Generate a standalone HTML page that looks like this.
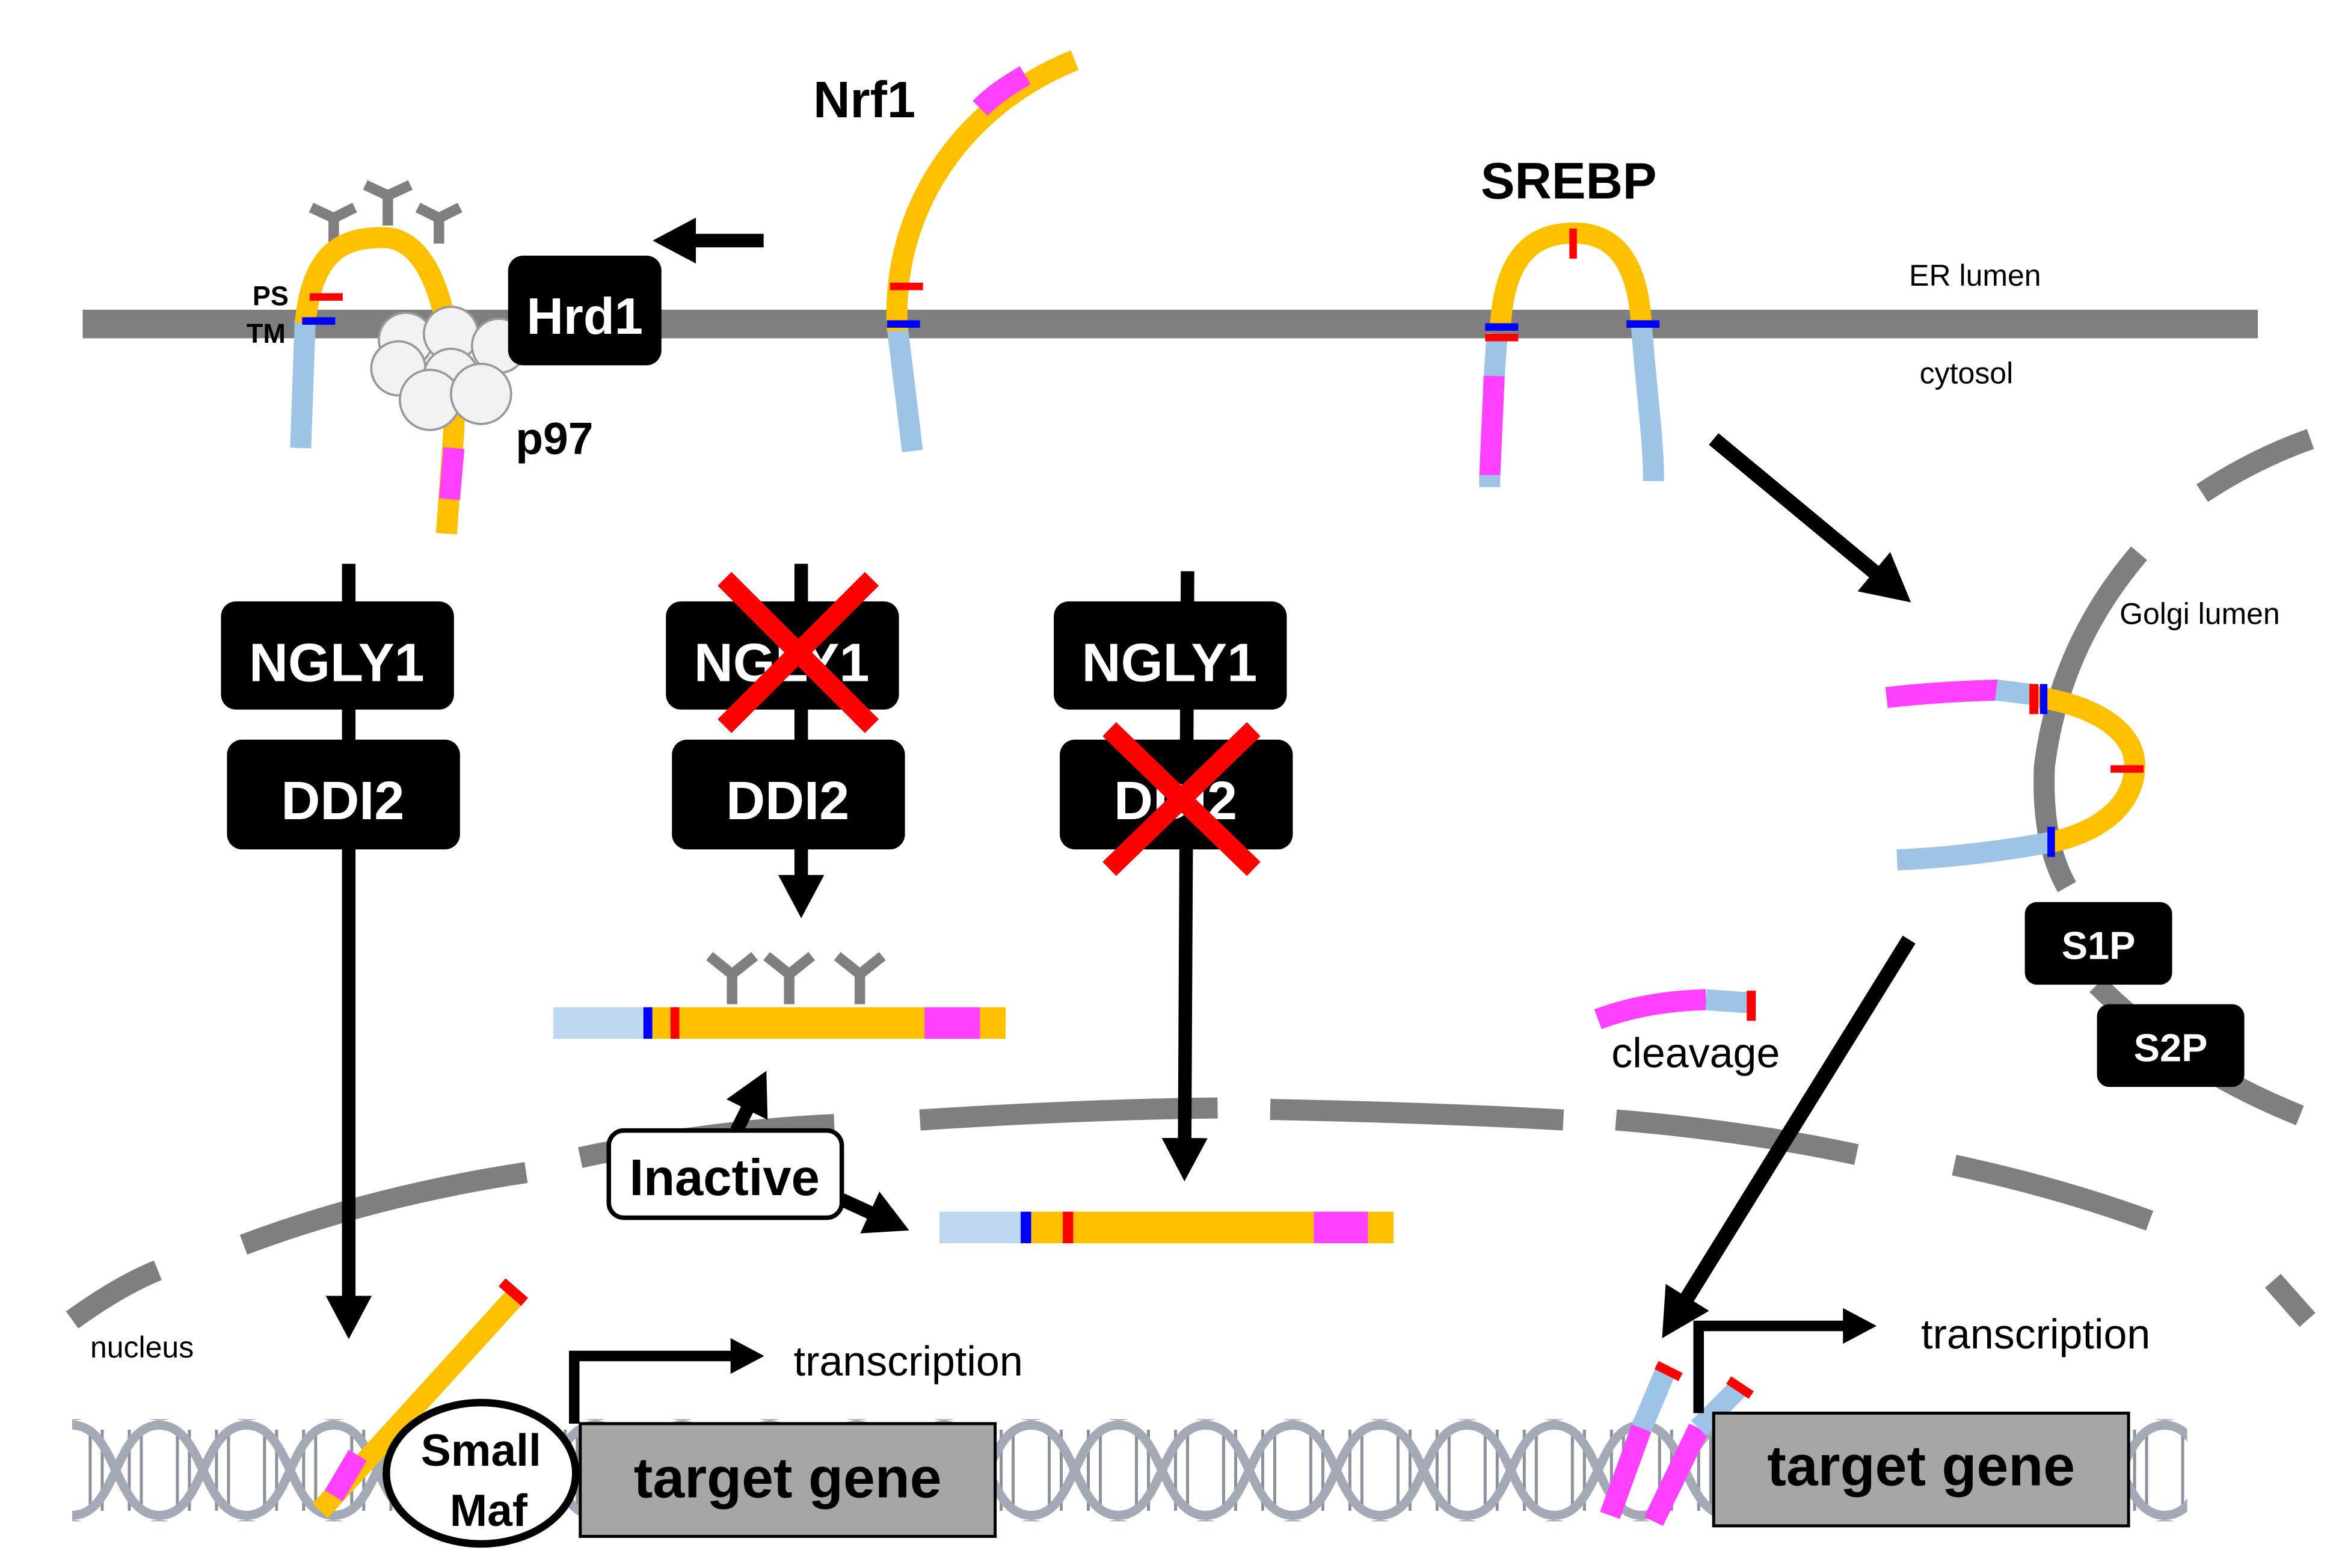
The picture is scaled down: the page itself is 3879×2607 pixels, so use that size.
<!DOCTYPE html>
<html><head><meta charset="utf-8"><style>html,body{margin:0;padding:0;background:#fff}svg{display:block}</style></head><body>
<svg width="3879" height="2607" viewBox="0 0 1552 1043" xmlns="http://www.w3.org/2000/svg" font-family="Liberation Sans, Arial, sans-serif">
<defs>
<marker id="ah" markerWidth="4" markerHeight="4" refX="2" refY="2" orient="auto" markerUnits="strokeWidth"><path d="M0,0.3 L3.2,2 L0,3.7 Z" fill="#000"/></marker>
<pattern id="dna" x="48" y="945" width="116" height="66" patternUnits="userSpaceOnUse">
<g stroke="#8b929c" stroke-width="2">
<line x1="12" y1="10" x2="12" y2="56"/><line x1="20" y1="6" x2="20" y2="60"/><line x1="38" y1="6" x2="38" y2="60"/><line x1="46" y1="10" x2="46" y2="56"/>
<line x1="70" y1="10" x2="70" y2="56"/><line x1="78" y1="6" x2="78" y2="60"/><line x1="96" y1="6" x2="96" y2="60"/><line x1="104" y1="10" x2="104" y2="56"/>
</g>
<g fill="none" stroke="#a3aab5" stroke-width="6">
<path d="M0,3 C30,3 28,63 58,63 C88,63 86,3 116,3"/>
<path d="M0,63 C30,63 28,3 58,3 C88,3 86,63 116,63"/>
</g>
</pattern>
</defs>
<rect width="1552" height="1043" fill="#fff"/>

<rect x="55" y="206" width="1447" height="19" fill="#7f7f7f"/>
<text x="1270" y="190" font-size="20">ER lumen</text>
<text x="1277" y="255" font-size="20">cytosol</text>

<g fill="none" stroke="#7f7f7f" stroke-width="14">
<path d="M48,878 Q80,855 105,845"/>
<path d="M162,828 Q250,795 350,780"/>
<path d="M386,770 Q470,752 555,748"/>
<path d="M612,745 Q720,738 810,737"/>
<path d="M845,738 Q950,740 1040,745"/>
<path d="M1075,745 Q1160,752 1235,768"/>
<path d="M1300,775 Q1370,790 1430,812"/>
<path d="M1512,852 L1535,878"/>
<path d="M1465,328 Q1500,305 1537,292"/>
<path d="M1423,368 Q1370,430 1360,510 Q1358,560 1375,590"/>
<path d="M1395,655 Q1450,710 1530,742"/>
</g>
<text x="60" y="903" font-size="20">nucleus</text>
<text x="1410" y="415" font-size="20">Golgi lumen</text>

<g stroke="#7f7f7f" stroke-width="7" fill="none">
<path d="M222,162 L222,145 M222,145 L207,138 M222,145 L236,138"/>
<path d="M258,150 L258,130 M258,130 L243,123 M258,130 L273,123"/>
<path d="M292,162 L292,145 M292,145 L278,138 M292,145 L306,138"/>
</g>
<g fill="none" stroke-width="14">
<path d="M200,298 L203,213" stroke="#9dc3e6"/>
<path d="M203,215 C208,165 230,158 255,158 C290,158 303,220 302,285 L297,355" stroke="#ffc000"/>
<path d="M302,298 L299,332" stroke="#ff40ff"/>
</g>
<rect x="206" y="195" width="22" height="5" fill="#ff0000"/>
<rect x="201" y="211" width="22" height="5" fill="#0000ff"/>
<text x="168" y="203" font-size="18" font-weight="bold">PS</text>
<text x="164" y="228" font-size="18" font-weight="bold">TM</text>
<g fill="#f2f2f2" stroke="#999" stroke-width="1.5">
<circle cx="270" cy="226" r="18"/><circle cx="300" cy="222" r="18"/><circle cx="332" cy="230" r="18"/>
<circle cx="265" cy="245" r="18"/><circle cx="300" cy="250" r="18"/><circle cx="286" cy="266" r="20"/><circle cx="320" cy="262" r="20"/>
</g>
<text x="343" y="302" font-size="30" font-weight="bold">p97</text>
<rect x="338" y="170" width="102" height="73" rx="10" fill="#000"/>
<text x="389" y="222" font-size="34" font-weight="bold" fill="#fff" text-anchor="middle">Hrd1</text>
<line x1="508" y1="160" x2="445" y2="160" stroke="#000" stroke-width="9" marker-end="url(#ah)"/>

<text x="541" y="78" font-size="34" font-weight="bold">Nrf1</text>
<g fill="none" stroke-width="14">
<path d="M607,300 L597,218" stroke="#9dc3e6"/>
<path d="M597,220 C592,140 640,70 715,40" stroke="#ffc000"/>
<path d="M652,72 C662,62 672,56 682,50" stroke="#ff40ff"/>
</g>
<rect x="592" y="188" width="22" height="5" fill="#ff0000"/>
<rect x="590" y="213" width="22" height="5" fill="#0000ff"/>

<text x="985" y="132" font-size="34" font-weight="bold">SREBP</text>
<g fill="none" stroke-width="14">
<path d="M998,220 C1000,170 1020,155 1047,155 C1075,155 1090,175 1092,218" stroke="#ffc000"/>
<path d="M996,222 L994,250" stroke="#9dc3e6"/>
<path d="M994,250 L991,318" stroke="#ff40ff"/>
<path d="M991,316 L991,324" stroke="#9dc3e6"/>
<path d="M1092,216 C1095,260 1100,290 1100,320" stroke="#9dc3e6"/>
</g>
<rect x="988" y="222" width="22" height="5" fill="#ff0000"/>
<rect x="988" y="215" width="22" height="5" fill="#0000ff"/>
<rect x="1082" y="213" width="22" height="5" fill="#0000ff"/>
<rect x="1044" y="152" width="5" height="20" fill="#ff0000"/>
<line x1="1140" y1="292" x2="1262" y2="393" stroke="#000" stroke-width="10" marker-end="url(#ah)"/>

<g fill="none" stroke-width="14">
<path d="M1255,464 Q1290,460 1330,459" stroke="#ff40ff"/>
<path d="M1328,459 L1352,462" stroke="#9dc3e6"/>
<path d="M1352,463 C1400,470 1422,490 1420,512 C1418,540 1390,555 1365,560" stroke="#ffc000"/>
<path d="M1366,560 Q1310,570 1262,572" stroke="#9dc3e6"/>
</g>
<rect x="1350" y="455" width="6" height="20" fill="#ff0000"/>
<rect x="1357" y="455" width="5" height="20" fill="#0000ff"/>
<rect x="1404" y="509" width="22" height="5" fill="#ff0000"/>
<rect x="1362" y="550" width="5" height="20" fill="#0000ff"/>
<rect x="1347" y="600" width="98" height="55" rx="8" fill="#000"/>
<text x="1396" y="638" font-size="26" font-weight="bold" fill="#fff" text-anchor="middle">S1P</text>
<rect x="1395" y="668" width="98" height="55" rx="8" fill="#000"/>
<text x="1444" y="706" font-size="26" font-weight="bold" fill="#fff" text-anchor="middle">S2P</text>
<g fill="none" stroke-width="14">
<path d="M1063,678 Q1095,666 1135,665" stroke="#ff40ff"/>
<path d="M1135,665 L1163,667" stroke="#9dc3e6"/>
</g>
<rect x="1162" y="659" width="6" height="20" fill="#ff0000"/>
<text x="1072" y="710" font-size="28">cleavage</text>

<line x1="232" y1="375" x2="232" y2="880" stroke="#000" stroke-width="9" marker-end="url(#ah)"/>
<line x1="533" y1="375" x2="533" y2="600" stroke="#000" stroke-width="9" marker-end="url(#ah)"/>
<line x1="790" y1="380" x2="788" y2="775" stroke="#000" stroke-width="9" marker-end="url(#ah)"/>
<g font-size="36" font-weight="bold" fill="#fff" text-anchor="middle">
<rect x="147" y="400" width="155" height="72" rx="10" fill="#000"/><text x="224" y="453">NGLY1</text>
<rect x="151" y="492" width="155" height="73" rx="10" fill="#000"/><text x="228" y="545">DDI2</text>
<rect x="443" y="400" width="155" height="72" rx="10" fill="#000"/><text x="520" y="453">NGLY1</text>
<rect x="447" y="492" width="155" height="73" rx="10" fill="#000"/><text x="524" y="545">DDI2</text>
<rect x="701" y="400" width="155" height="72" rx="10" fill="#000"/><text x="778" y="453">NGLY1</text>
<rect x="705" y="492" width="155" height="73" rx="10" fill="#000"/><text x="782" y="545">DDI2</text>
</g>
<g stroke="#ff0000" stroke-width="13">
<line x1="482" y1="385" x2="580" y2="483"/><line x1="580" y1="385" x2="482" y2="483"/>
<line x1="738" y1="485" x2="834" y2="578"/><line x1="834" y1="485" x2="738" y2="578"/>
</g>

<g stroke="#7f7f7f" stroke-width="7" fill="none">
<path d="M487,668 L487,648 M487,648 L472,636 M487,648 L502,636"/>
<path d="M525,668 L525,648 M525,648 L510,636 M525,648 L540,636"/>
<path d="M572,668 L572,648 M572,648 L557,636 M572,648 L587,636"/>
</g>
<rect x="368" y="670" width="60" height="21" fill="#bdd7ee"/>
<rect x="428" y="670" width="6" height="21" fill="#0000ff"/>
<rect x="434" y="670" width="12" height="21" fill="#ffc000"/>
<rect x="446" y="670" width="6" height="21" fill="#ff0000"/>
<rect x="452" y="670" width="163" height="21" fill="#ffc000"/>
<rect x="615" y="670" width="37" height="21" fill="#ff40ff"/>
<rect x="652" y="670" width="17" height="21" fill="#ffc000"/>
<rect x="625" y="806" width="54" height="21" fill="#bdd7ee"/>
<rect x="679" y="806" width="7" height="21" fill="#0000ff"/>
<rect x="686" y="806" width="21" height="21" fill="#ffc000"/>
<rect x="707" y="806" width="7" height="21" fill="#ff0000"/>
<rect x="714" y="806" width="160" height="21" fill="#ffc000"/>
<rect x="874" y="806" width="36" height="21" fill="#ff40ff"/>
<rect x="910" y="806" width="17" height="21" fill="#ffc000"/>

<line x1="490" y1="752" x2="505" y2="722" stroke="#000" stroke-width="9" marker-end="url(#ah)"/>
<line x1="560" y1="798" x2="595" y2="814" stroke="#000" stroke-width="9" marker-end="url(#ah)"/>
<rect x="405" y="752" width="155" height="58" rx="10" fill="#fff" stroke="#000" stroke-width="3"/>
<text x="482" y="795" font-size="34" font-weight="bold" text-anchor="middle">Inactive</text>

<rect x="48" y="944" width="1407" height="68" fill="url(#dna)"/>

<g fill="none" stroke-width="14">
<path d="M345,860 L213,1005" stroke="#ffc000"/>
<path d="M238,968 L222,995" stroke="#ff40ff"/>
</g>
<line x1="334" y1="853" x2="349" y2="866" stroke="#ff0000" stroke-width="7"/>
<ellipse cx="320" cy="980" rx="63" ry="47" fill="#fff" stroke="#000" stroke-width="5"/>
<text x="320" y="975" font-size="30" font-weight="bold" text-anchor="middle">Small</text>
<text x="325" y="1015" font-size="30" font-weight="bold" text-anchor="middle">Maf</text>

<path d="M382,947 L382,902 L500,902" fill="none" stroke="#000" stroke-width="7" marker-end="url(#ah)"/>
<text x="528" y="915" font-size="28">transcription</text>
<rect x="386" y="947" width="276" height="75" fill="#a6a6a6" stroke="#000" stroke-width="2"/>
<text x="524" y="996" font-size="38" font-weight="bold" text-anchor="middle">target gene</text>

<line x1="1270" y1="625" x2="1112" y2="880" stroke="#000" stroke-width="10" marker-end="url(#ah)"/>
<g fill="none" stroke-width="14">
<path d="M1071,1008 L1092,950" stroke="#ff40ff"/>
<path d="M1092,950 L1108,912" stroke="#9dc3e6"/>
<path d="M1100,1012 L1130,950" stroke="#ff40ff"/>
<path d="M1130,950 L1158,922" stroke="#9dc3e6"/>
</g>
<line x1="1102" y1="908" x2="1118" y2="916" stroke="#ff0000" stroke-width="6"/>
<line x1="1150" y1="918" x2="1165" y2="928" stroke="#ff0000" stroke-width="6"/>
<path d="M1130,940 L1130,882 L1240,882" fill="none" stroke="#000" stroke-width="7" marker-end="url(#ah)"/>
<text x="1278" y="897" font-size="28">transcription</text>
<rect x="1140" y="940" width="276" height="75" fill="#a6a6a6" stroke="#000" stroke-width="2"/>
<text x="1278" y="988" font-size="38" font-weight="bold" text-anchor="middle">target gene</text>
</svg>
</body></html>
